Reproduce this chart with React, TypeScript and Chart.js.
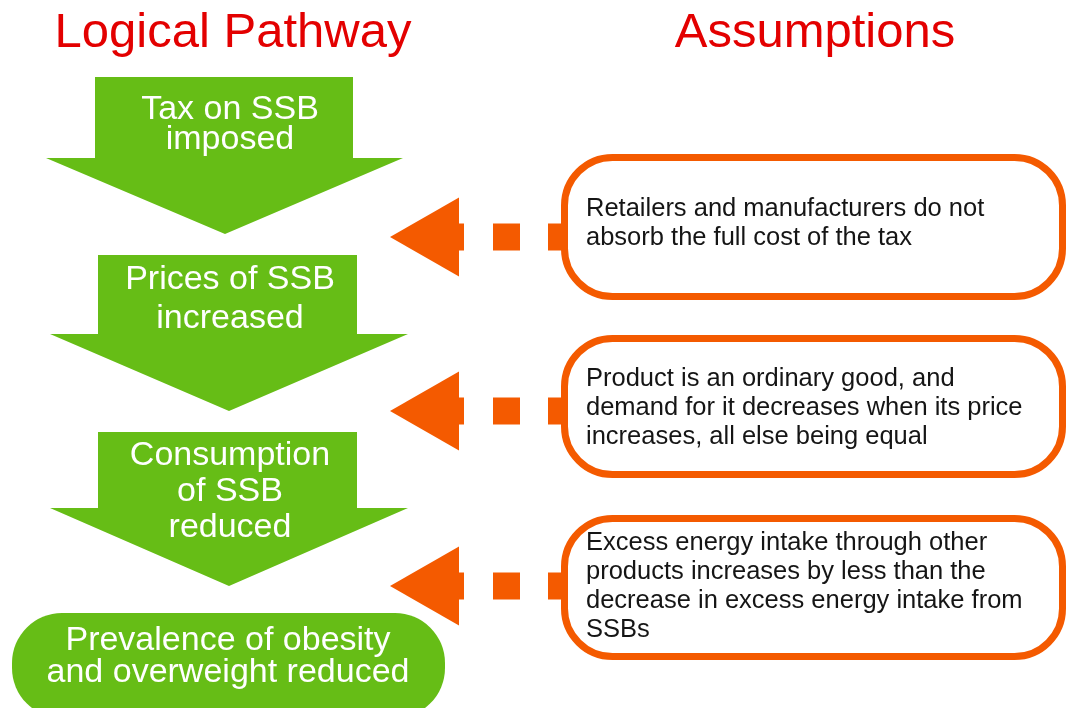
import React, { useEffect, useRef } from "react";
import { Chart, registerables } from "chart.js";

Chart.register(...registerables);

// ---- Content (text only) ----
const headings = ["Logical Pathway", "Assumptions"];
const pathwaySteps: string[][] = [
  ["Tax on SSB", "imposed"],
  ["Prices of SSB", "increased"],
  ["Consumption", "of SSB", "reduced"],
];
const outcomeLines = ["Prevalence of obesity", "and overweight reduced"];
const assumptionLines: string[][] = [
  ["Retailers and manufacturers do not", "absorb the full cost of the tax"],
  [
    "Product is an ordinary good, and",
    "demand for it decreases when its price",
    "increases, all else being equal",
  ],
  [
    "Excess energy intake through other",
    "products increases by less than the",
    "decrease in excess energy intake from",
    "SSBs",
  ],
];

// ---- Layout (diagram coordinates on the chart's own linear scales) ----
const W = 1069;
const H = 708;
const GREEN = "#66BD16";
const ORANGE = "#F45A00";
const RED = "#E30000";
const FONT = '"Liberation Sans", Arial, Helvetica, sans-serif';

const headingPos = [
  { x: 233, y: 47 },
  { x: 815, y: 47 },
];
const arrowGeom = [
  { sl: 95, sr: 353, top: 77, neck: 158, hl: 46, hr: 403, tx: 225, ty: 234, cx: 230, base: [119, 149] },
  { sl: 98, sr: 357, top: 255, neck: 334, hl: 50, hr: 408, tx: 229, ty: 411, cx: 230, base: [289, 328] },
  { sl: 98, sr: 357, top: 432, neck: 508, hl: 50, hr: 408, tx: 229, ty: 586, cx: 230, base: [465, 501, 537] },
];
const outcomeGeom = { x0: 12, y0: 613, x1: 445, y1: 718, r: 50, cx: 228, base: [650, 682] };
const boxGeom = [
  { x0: 561, y0: 154, x1: 1066, y1: 300, cy: 237, base: [216, 245] },
  { x0: 561, y0: 335, x1: 1066, y1: 478, cy: 411, base: [386, 415, 444] },
  { x0: 561, y0: 515, x1: 1066, y1: 660, cy: 586, base: [550, 579, 608, 637] },
];

function roundRectPath(ctx: CanvasRenderingContext2D, x: number, y: number, w: number, h: number, r: number) {
  const rr = Math.min(r, w / 2, h / 2);
  ctx.beginPath();
  ctx.moveTo(x + rr, y);
  ctx.lineTo(x + w - rr, y);
  ctx.arcTo(x + w, y, x + w, y + rr, rr);
  ctx.lineTo(x + w, y + h - rr);
  ctx.arcTo(x + w, y + h, x + w - rr, y + h, rr);
  ctx.lineTo(x + rr, y + h);
  ctx.arcTo(x, y + h, x, y + h - rr, rr);
  ctx.lineTo(x, y + rr);
  ctx.arcTo(x, y, x + rr, y, rr);
  ctx.closePath();
}

const diagramPlugin = {
  id: "diagram",
  afterDraw(chart: any) {
    const ctx: CanvasRenderingContext2D = chart.ctx;
    const sx = chart.scales.x;
    const sy = chart.scales.y;
    const X = (v: number) => sx.getPixelForValue(v);
    const Y = (v: number) => sy.getPixelForValue(v);
    ctx.save();

    // Headings
    ctx.fillStyle = RED;
    ctx.textAlign = "center";
    ctx.textBaseline = "alphabetic";
    ctx.font = `49px ${FONT}`;
    headings.forEach((t, i) => ctx.fillText(t, X(headingPos[i].x), Y(headingPos[i].y)));

    // Green block arrows
    arrowGeom.forEach((g, i) => {
      ctx.fillStyle = GREEN;
      ctx.beginPath();
      ctx.moveTo(X(g.sl), Y(g.top));
      ctx.lineTo(X(g.sr), Y(g.top));
      ctx.lineTo(X(g.sr), Y(g.neck));
      ctx.lineTo(X(g.hr), Y(g.neck));
      ctx.lineTo(X(g.tx), Y(g.ty));
      ctx.lineTo(X(g.hl), Y(g.neck));
      ctx.lineTo(X(g.sl), Y(g.neck));
      ctx.closePath();
      ctx.fill();
      ctx.fillStyle = "#FFFFFF";
      ctx.font = `34px ${FONT}`;
      pathwaySteps[i].forEach((line, j) => ctx.fillText(line, X(g.cx), Y(g.base[j])));
    });

    // Outcome rounded box
    const o = outcomeGeom;
    ctx.fillStyle = GREEN;
    roundRectPath(ctx, X(o.x0), Y(o.y0), X(o.x1) - X(o.x0), Y(o.y1) - Y(o.y0), o.r);
    ctx.fill();
    ctx.fillStyle = "#FFFFFF";
    ctx.font = `34px ${FONT}`;
    outcomeLines.forEach((line, j) => ctx.fillText(line, X(o.cx), Y(o.base[j])));

    // Assumption boxes with dashed orange pointers
    boxGeom.forEach((b, i) => {
      const cy = b.cy;
      ctx.fillStyle = ORANGE;
      // triangle head
      ctx.beginPath();
      ctx.moveTo(X(390), Y(cy));
      ctx.lineTo(X(459), Y(cy - 39.5));
      ctx.lineTo(X(459), Y(cy + 39.5));
      ctx.closePath();
      ctx.fill();
      // stub + dashes
      const segs = [
        [458, 464],
        [493, 520],
        [548, 566],
      ];
      segs.forEach(([a, c]) => {
        ctx.fillRect(X(a), Y(cy - 13.5), X(c) - X(a), Y(cy + 13.5) - Y(cy - 13.5));
      });
      // box
      const bw = 7;
      ctx.lineWidth = bw;
      ctx.strokeStyle = ORANGE;
      roundRectPath(
        ctx,
        X(b.x0) + bw / 2,
        Y(b.y0) + bw / 2,
        X(b.x1) - X(b.x0) - bw,
        Y(b.y1) - Y(b.y0) - bw,
        48
      );
      ctx.fillStyle = "#FFFFFF";
      ctx.fill();
      ctx.stroke();
      // text
      ctx.fillStyle = "#151515";
      ctx.textAlign = "left";
      ctx.font = `25.5px ${FONT}`;
      assumptionLines[i].forEach((line, j) => ctx.fillText(line, X(586), Y(b.base[j])));
      ctx.textAlign = "center";
    });

    ctx.restore();
  },
};

export default function App() {
  const ref = useRef<HTMLCanvasElement | null>(null);
  useEffect(() => {
    document.body.style.margin = "0";
    const canvas = ref.current;
    if (!canvas) return;
    const chart = new Chart(canvas, {
      type: "scatter",
      data: { datasets: [{ data: [], pointRadius: 0 }] },
      options: {
        animation: false,
        responsive: false,
        maintainAspectRatio: false,
        devicePixelRatio: 1,
        layout: { padding: 0 },
        events: [],
        plugins: { legend: { display: false }, tooltip: { enabled: false }, title: { display: false } },
        scales: {
          x: { type: "linear", min: 0, max: W, display: false },
          y: { type: "linear", min: 0, max: H, reverse: true, display: false },
        },
      },
      plugins: [diagramPlugin],
    });
    return () => chart.destroy();
  }, []);
  return (
    <div style={{ position: "fixed", left: 0, top: 0, width: W, height: H, background: "#FFFFFF" }}>
      <canvas ref={ref} width={W} height={H} style={{ width: W, height: H, display: "block" }} />
    </div>
  );
}
